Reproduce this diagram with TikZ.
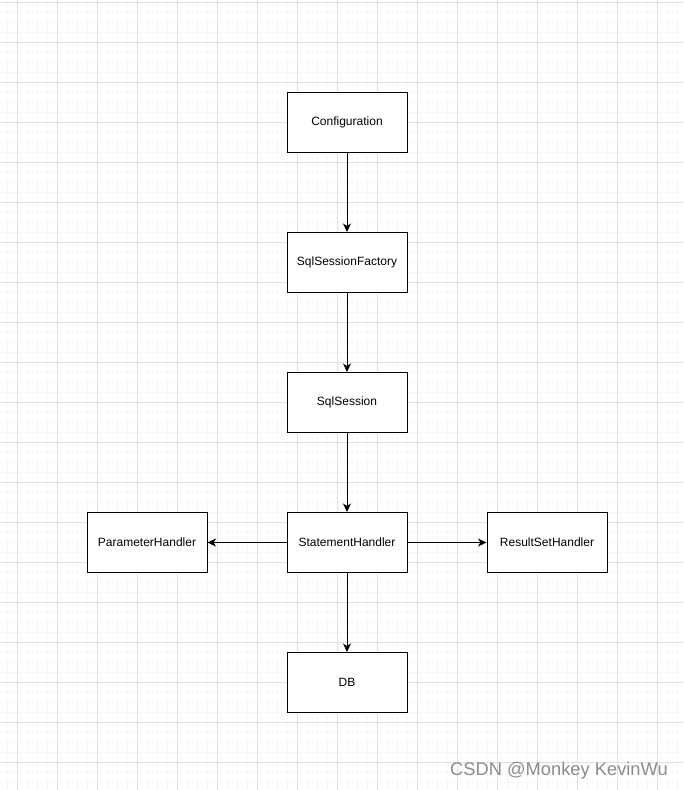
\documentclass[tikz,border=0pt]{standalone}
\usepackage{fontspec}
\setmainfont{Liberation Sans}
\usetikzlibrary{arrows.meta}
\begin{document}
\begin{tikzpicture}[x=1pt,y=-1pt,
  box/.style={draw=black,line width=1pt,fill=white,minimum width=120pt,minimum height=60pt,inner sep=0pt,font=\fontsize{12}{14}\selectfont},
  conn/.style={draw=black,line width=1pt,-{Stealth[length=8.5pt,width=8pt,inset=2.5pt]}},
  minorgrid/.style={draw=black!3,line width=0.8pt},
  majorgrid/.style={draw=black!12,line width=0.9pt}]
\useasboundingbox (0,0) rectangle (683,790);
\fill[white] (0,0) rectangle (683,790);
% minor grid
\foreach \x in {7,17,...,683} \draw[minorgrid] (\x,0) -- (\x,790);
\foreach \y in {2,12,...,790} \draw[minorgrid] (0,\y) -- (683,\y);
% major grid
\foreach \x in {17,57,...,683} \draw[majorgrid] (\x,0) -- (\x,790);
\foreach \y in {2,42,...,790} \draw[majorgrid] (0,\y) -- (683,\y);
% nodes
\node[box] (conf) at (347,122.5) {Configuration};
\node[box] (fact) at (347,262.5) {SqlSessionFactory};
\node[box] (sess) at (347,402.5) {SqlSession};
\node[box] (stmt) at (347,542.5) {StatementHandler};
\node[box] (param) at (147,542.5) {ParameterHandler};
\node[box] (rs) at (547,542.5) {ResultSetHandler};
\node[box] (db) at (347,682.5) {DB};
% connectors
\draw[conn] (conf) -- (fact);
\draw[conn] (fact) -- (sess);
\draw[conn] (sess) -- (stmt);
\draw[conn] (stmt) -- (param);
\draw[conn] (stmt) -- (rs);
\draw[conn] (stmt) -- (db);
% watermark
\node[anchor=east,inner sep=0pt,text=black!45,font=\fontsize{18.3}{20}\selectfont] (wm) at (668,771) {CSDN @Monkey KevinWu};
\end{tikzpicture}
\end{document}
